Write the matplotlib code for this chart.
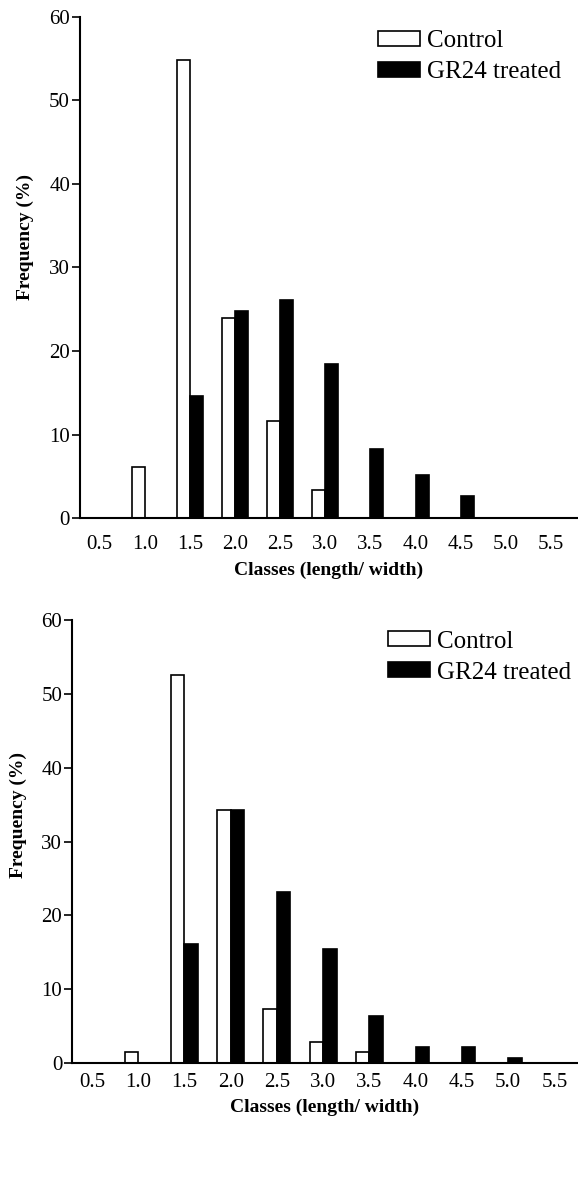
import matplotlib
matplotlib.use("Agg")
import matplotlib.pyplot as plt
import numpy as np

classes = ["0.5", "1.0", "1.5", "2.0", "2.5", "3.0", "3.5", "4.0", "4.5", "5.0", "5.5"]

top_control = [0, 6.1, 54.8, 24.0, 11.6, 3.4, 0, 0, 0, 0, 0]
top_gr24 = [0, 0, 14.6, 24.8, 26.1, 18.5, 8.3, 5.1, 2.6, 0, 0]

bot_control = [0, 1.5, 52.5, 34.3, 7.3, 2.9, 1.5, 0, 0, 0, 0]
bot_gr24 = [0, 0, 16.1, 34.3, 23.1, 15.4, 6.3, 2.1, 2.1, 0.7, 0]

yticks = [0, 10, 20, 30, 40, 50, 60]

plt.rcParams['font.family'] = ['Liberation Serif', 'DejaVu Serif']

fig = plt.figure(figsize=(5.78, 11.91), dpi=100)

def draw(ax, control, gr, xlim, xpad, ylab_x, leg_anchor):
    x = np.arange(len(classes))
    w = 0.29
    ax.bar(x - w / 2, control, width=w, color='white', edgecolor='black', linewidth=1.2, label='Control')
    ax.bar(x + w / 2, gr, width=w, color='black', edgecolor='black', linewidth=1.2, label='GR24 treated')
    ax.set_xlim(*xlim)
    ax.set_ylim(0, 60)
    ax.set_yticks(yticks)
    ax.set_xticks(x)
    ax.set_xticklabels(classes)
    ax.tick_params(axis='x', length=0, labelsize=15, pad=xpad)
    ax.tick_params(axis='y', direction='out', length=6, width=1.2, labelsize=15, pad=1)
    for s in ['top', 'right']:
        ax.spines[s].set_visible(False)
    for s in ['left', 'bottom']:
        ax.spines[s].set_linewidth(1.5)
    ax.set_ylabel('Frequency (%)', fontsize=14, fontweight='bold')
    ax.yaxis.set_label_coords(ylab_x, 0.56)
    ax.set_xlabel('Classes (length/ width)', fontsize=14, fontweight='bold', labelpad=5)
    ax.legend(loc='upper left', bbox_to_anchor=leg_anchor, bbox_transform=fig.transFigure,
              frameon=False, fontsize=18,
              handlelength=1.68, handleheight=0.52, handletextpad=0.28, labelspacing=0.36,
              borderpad=0.0, borderaxespad=0.0)

ax1 = fig.add_axes([0.138, 0.565, 0.862, 0.4208])
draw(ax1, top_control, top_gr24, (-0.44, 10.6), 12.5, -0.092, (0.654, 0.9745))

ax2 = fig.add_axes([0.1246, 0.1075, 0.8754, 0.3719])
draw(ax2, bot_control, bot_gr24, (-0.43, 10.51), 7.0, -0.089, (0.672, 0.4705))

fig.savefig('out.png', dpi=100)
